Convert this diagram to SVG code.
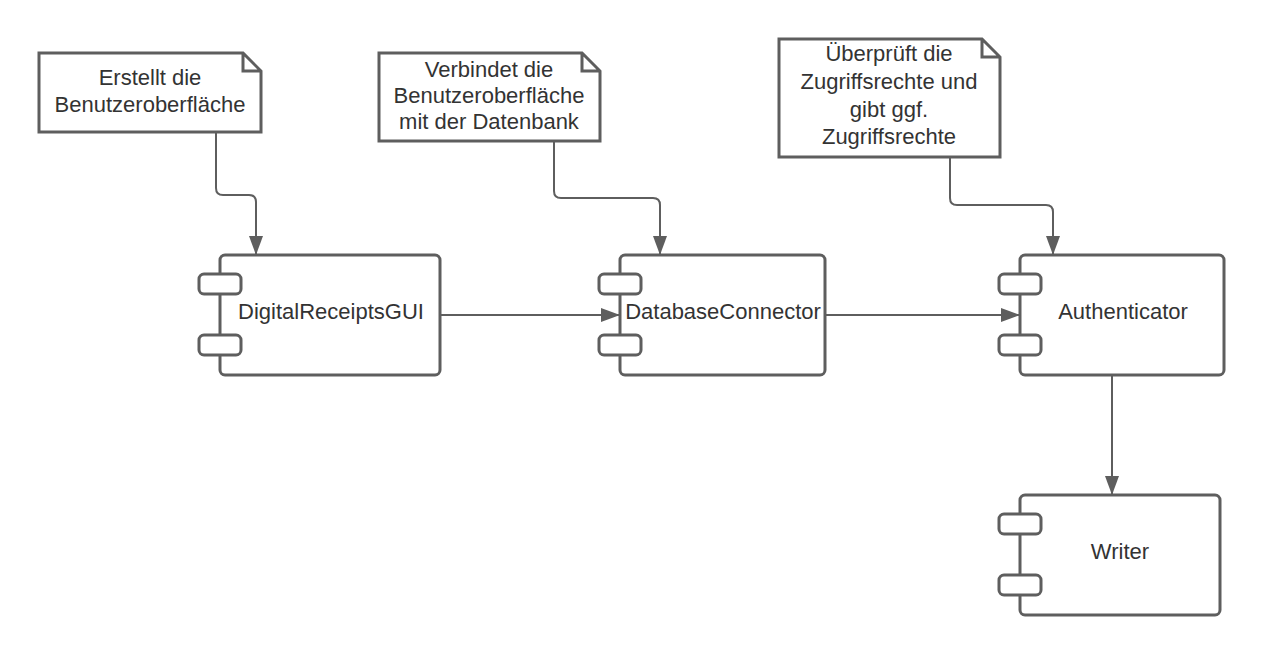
<svg xmlns="http://www.w3.org/2000/svg" width="1265" height="655" viewBox="0 0 1265 655">
<defs>
<style>
.box{fill:#fff;stroke:#5e5e5e;stroke-width:3;}
.port{fill:#fff;stroke:#5e5e5e;stroke-width:3;}
.note{fill:#fff;stroke:#5e5e5e;stroke-width:3;stroke-linejoin:miter;}
.conn{fill:none;stroke:#5e5e5e;stroke-width:2;}
text{font-family:"Liberation Sans",Arial,sans-serif;font-size:22px;fill:#333333;text-anchor:middle;}
</style>
<marker id="arr" markerUnits="userSpaceOnUse" markerWidth="20" markerHeight="14" refX="19" refY="7" orient="auto">
<path d="M0,0 L19,7 L0,14 Z" fill="#5e5e5e"/>
</marker>
</defs>
<rect width="1265" height="655" fill="#ffffff"/>
<g id="connectors">
<path class="conn" d="M216,132 V188 Q216,195 223,195 H249 Q256,195 256,202 V255" marker-end="url(#arr)"/>
<path class="conn" d="M554,141 V191 Q554,198 561,198 H653 Q660,198 660,205 V255" marker-end="url(#arr)"/>
<path class="conn" d="M950,157 V198 Q950,205 957,205 H1046 Q1053,205 1053,212 V255" marker-end="url(#arr)"/>
<path class="conn" d="M440,315 H620" marker-end="url(#arr)"/>
<path class="conn" d="M825,315 H1020" marker-end="url(#arr)"/>
<path class="conn" d="M1112,375 V495" marker-end="url(#arr)"/>
</g>
<g id="note1">
<path class="note" d="M39,53 H243 L261,71 V132 H39 Z M243,53 V71 H261"/>
<text x="150" y="85">Erstellt die</text>
<text x="150" y="112">Benutzeroberfläche</text>
</g>
<g id="note2">
<path class="note" d="M379,53 H582 L600,71 V141 H379 Z M582,53 V71 H600"/>
<text x="489" y="77">Verbindet die</text>
<text x="489" y="103">Benutzeroberfläche</text>
<text x="489" y="129">mit der Datenbank</text>
</g>
<g id="note3">
<path class="note" d="M779,39 H982 L1000,57 V157 H779 Z M982,39 V57 H1000"/>
<text x="889" y="61">Überprüft die</text>
<text x="889" y="89">Zugriffsrechte und</text>
<text x="889" y="117">gibt ggf.</text>
<text x="889" y="144">Zugriffsrechte</text>
</g>
<g id="gui">
<rect class="box" x="220" y="255" width="220" height="120" rx="5"/>
<rect class="port" x="199" y="274" width="42" height="20" rx="5"/>
<rect class="port" x="199" y="335" width="42" height="20" rx="5"/>
<text x="331" y="319">DigitalReceiptsGUI</text>
</g>
<g id="dbconnector">
<rect class="box" x="620" y="255" width="205" height="120" rx="5"/>
<rect class="port" x="599" y="274" width="42" height="20" rx="5"/>
<rect class="port" x="599" y="335" width="42" height="20" rx="5"/>
<text x="723" y="319">DatabaseConnector</text>
</g>
<g id="authenticator">
<rect class="box" x="1020" y="255" width="204" height="120" rx="5"/>
<rect class="port" x="999" y="274" width="42" height="20" rx="5"/>
<rect class="port" x="999" y="335" width="42" height="20" rx="5"/>
<text x="1123" y="319">Authenticator</text>
</g>
<g id="writer">
<rect class="box" x="1020" y="495" width="200" height="120" rx="5"/>
<rect class="port" x="999" y="514" width="42" height="20" rx="5"/>
<rect class="port" x="999" y="575" width="42" height="20" rx="5"/>
<text x="1120" y="559">Writer</text>
</g>
</svg>
